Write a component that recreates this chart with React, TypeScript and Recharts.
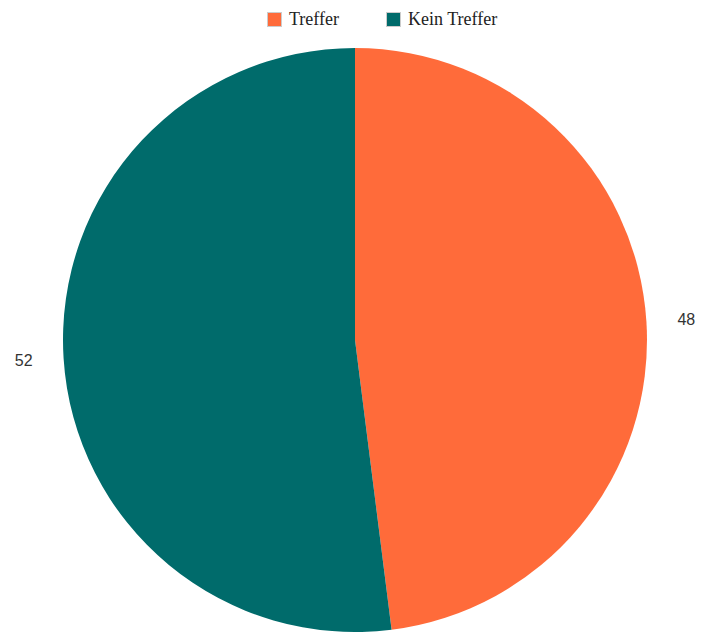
import React from "react";
import { PieChart, Pie, Cell, Legend } from "recharts";

const categories = ["Treffer", "Kein Treffer"];
const values = [48, 52];
const colors = ["#FF6B3A", "#006B6B"];

const data = categories.map((name, i) => ({ name, value: values[i] }));

const RADIAN = Math.PI / 180;

const renderLabel = (props: any) => {
  const { cx, cy, midAngle, outerRadius, value } = props;
  const r = outerRadius + 40;
  const x = cx + r * Math.cos(-midAngle * RADIAN);
  const y = cy + r * Math.sin(-midAngle * RADIAN);
  return (
    <text
      x={x}
      y={y}
      textAnchor="middle"
      dominantBaseline="central"
      fill="#333"
      fontFamily="'Liberation Sans', Arial, sans-serif"
      fontSize={16}
    >
      {value}
    </text>
  );
};

const renderLegend = () => (
  <div
    style={{
      display: "flex",
      justifyContent: "flex-start",
      paddingLeft: 267,
      fontFamily: "'Liberation Serif', 'Times New Roman', serif",
      fontSize: 18,
      lineHeight: "20px",
      color: "#222",
    }}
  >
    {categories.map((c, i) => (
      <div key={c} style={{ display: "flex", alignItems: "center", marginRight: i === 0 ? 47 : 0 }}>
        <span
          style={{
            display: "inline-block",
            width: 13,
            height: 13,
            background: colors[i],
            border: "1px solid #ccc",
            marginRight: 7,
          }}
        />
        <span>{c}</span>
      </div>
    ))}
  </div>
);

export default function App() {
  return (
    <div style={{ position: "absolute", left: 0, top: 0, background: "#fff" }}>
      <PieChart width={701} height={632} margin={{ top: 0, right: 0, bottom: 0, left: 0 }}>
        <Legend
          content={renderLegend}
          wrapperStyle={{ top: 9, left: 0, width: 701, bottom: "auto" }}
        />
        <Pie
          data={data}
          dataKey="value"
          nameKey="name"
          cx={355}
          cy={340}
          outerRadius={292}
          startAngle={90}
          endAngle={-270}
          stroke="none"
          label={renderLabel}
          labelLine={false}
          isAnimationActive={false}
        >
          {data.map((d, i) => (
            <Cell key={d.name} fill={colors[i]} />
          ))}
        </Pie>
      </PieChart>
    </div>
  );
}
